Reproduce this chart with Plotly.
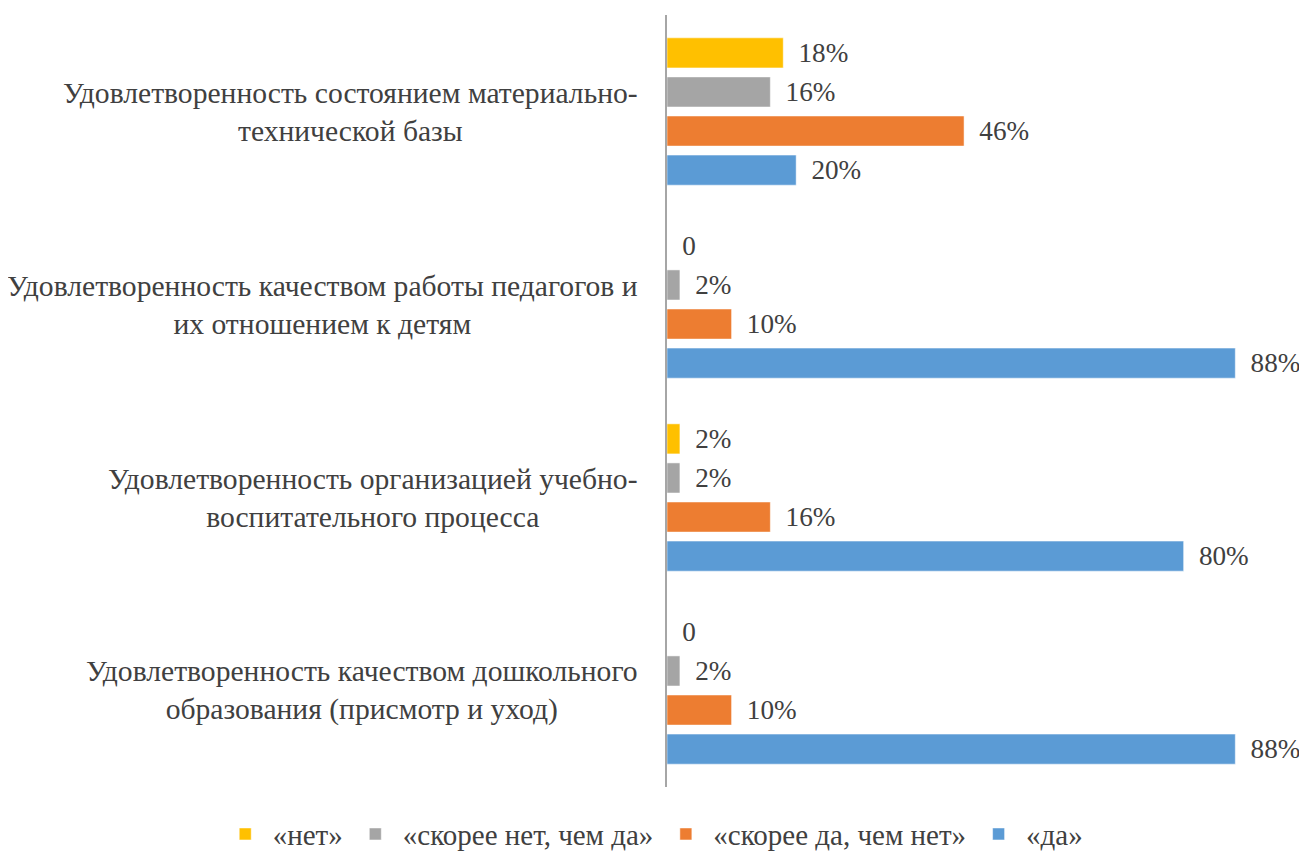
import plotly.graph_objects as go

# категории снизу вверх (порядок оси Y в plotly)
categories = [
    "Удовлетворенность качеством дошкольного<br>образования (присмотр и уход)",
    "Удовлетворенность организацией учебно-<br>воспитательного процесса",
    "Удовлетворенность качеством работы педагогов и<br>их отношением к детям",
    "Удовлетворенность состоянием материально-<br>технической базы",
]

da = [88, 80, 88, 20]
skoree_da = [10, 16, 10, 46]
skoree_net = [2, 2, 2, 16]
net = [0, 2, 0, 18]

series = [
    ("«да»", da, "#5B9BD5"),
    ("«скорее да, чем нет»", skoree_da, "#ED7D31"),
    ("«скорее нет, чем да»", skoree_net, "#A5A5A5"),
    ("«нет»", net, "#FFC000"),
]

FONT = "Liberation Serif, Times New Roman, serif"
TEXT_COLOR = "#404040"


def label(v):
    # небольшой отступ от конца столбца
    return " \u20090" if v == 0 else f" \u2009{v}%"


fig = go.Figure()
for name, values, color in series:
    fig.add_trace(go.Bar(
        name=name,
        y=categories,
        x=values,
        orientation="h",
        marker=dict(color=color, line=dict(color="white", width=0.5)),
        text=[label(v) for v in values],
        textposition="outside",
        cliponaxis=False,
        textfont=dict(family=FONT, size=28, color=TEXT_COLOR),
    ))

# подписи категорий: строки по центру, блок прижат вправо к оси
for cat in categories:
    fig.add_annotation(
        x=-0.042, xref="paper", y=cat, yref="y",
        text=cat, showarrow=False,
        xanchor="right", align="center",
        font=dict(family=FONT, size=29.6, color=TEXT_COLOR),
    )

fig.update_layout(
    width=1299,
    height=846,
    barmode="group",
    bargap=0.19,
    bargroupgap=0.23,
    plot_bgcolor="white",
    paper_bgcolor="white",
    margin=dict(l=659, r=0, t=7, b=67, autoexpand=False),
    font=dict(family=FONT, size=29, color=TEXT_COLOR),
    xaxis=dict(range=[0, 99.1], visible=False, showgrid=False),
    yaxis=dict(
        showline=True, linecolor="#A6A6A6", linewidth=1.5,
        ticks="", showgrid=False, automargin=False,
        showticklabels=False,
    ),
    legend=dict(
        orientation="h", traceorder="reversed",
        x=-0.702, xanchor="left", y=-0.028, yanchor="top",
        font=dict(family=FONT, size=29, color=TEXT_COLOR),
        itemwidth=45,
    ),
    showlegend=True,
)

fig.write_html("out.html")
